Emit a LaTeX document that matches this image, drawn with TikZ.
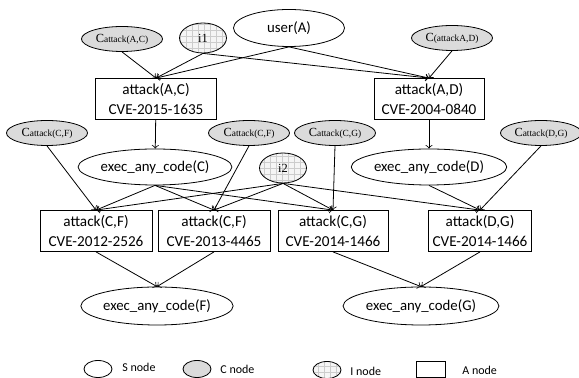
\documentclass[tikz,border=0pt]{standalone}
\usepackage{fontspec}
\setmainfont{Carlito}
\newfontfamily\tnr{Liberation Serif}
\usepackage{tikz}
\usetikzlibrary{shapes.geometric, patterns}

\newcommand{\cname}[2]{{\fontsize{6.2}{7}\selectfont #1}{\fontsize{4.7}{6}\selectfont #2}}

\begin{document}
\begin{tikzpicture}[x=0.5pt,y=-0.5pt,
  snode/.style={draw,ellipse,inner sep=0pt,font=\fontsize{7.4}{9}\selectfont},
  cnode/.style={draw,ellipse,fill=gray!28,inner sep=0pt,minimum width=40.5pt,minimum height=12.5pt,font=\tnr},
  inode/.style={draw,ellipse,inner sep=0pt,minimum width=23.5pt,minimum height=15pt,
    preaction={fill=gray!8},pattern=grid,pattern color=gray!40,font=\tnr\fontsize{6.2}{7}\selectfont},
  anode/.style={draw,rectangle,inner sep=0pt,align=center,minimum height=20.5pt,font=\fontsize{7.6}{10}\selectfont},
  legtext/.style={anchor=west,inner sep=0pt,font=\fontsize{6}{7}\selectfont}]
\useasboundingbox (0,0) rectangle (579,378);

% top row
\node[cnode] (cAC) at (122,39) {\cname{C}{attack(A,C)}};
\node[inode] (i1) at (203,38) {i1};
\node[snode,minimum width=55.5pt,minimum height=18.5pt] (userA) at (289,28) {user(A)};
\node[cnode] (cAD) at (452,38) {\cname{C}{(attackA,D)}};

\node[anode,minimum width=60.5pt] (aAC) at (156,99) {attack(A,C)\\CVE-2015-1635};
\node[anode,minimum width=55pt] (aAD) at (429,99) {attack(A,D)\\CVE-2004-0840};

% middle row
\node[cnode] (cCF1) at (47,133) {\cname{C}{attack(C,F)}};
\node[cnode] (cCF2) at (249,133) {\cname{C}{attack(C,F)}};
\node[cnode] (cCG) at (335,133) {\cname{C}{attack(C,G)}};
\node[cnode] (cDG) at (541,133) {\cname{C}{attack(D,G)}};

\node[snode,minimum width=75pt,minimum height=18pt] (eC) at (155,167) {exec\_any\_code(C)};
\node[snode,minimum width=75pt,minimum height=18pt] (eD) at (429,167) {exec\_any\_code(D)};
\node[inode] (i2) at (283,168) {i2};

\node[anode,minimum width=56pt] (aCF1) at (96,231) {attack(C,F)\\CVE-2012-2526};
\node[anode,minimum width=56pt] (aCF2) at (214,231) {attack(C,F)\\CVE-2013-4465};
\node[anode,minimum width=55pt] (aCG) at (333,231) {attack(C,G)\\CVE-2014-1466};
\node[anode,minimum width=51.5pt] (aDG) at (480,231) {attack(D,G)\\CVE-2014-1466};

% bottom row
\node[snode,minimum width=75pt,minimum height=19pt] (eF) at (157,306) {exec\_any\_code(F)};
\node[snode,minimum width=74pt,minimum height=19pt] (eG) at (421,306) {exec\_any\_code(G)};

% edges
\draw[->] (cAC.south) -- (aAC.north);
\draw[->] (i1.south) -- (aAC.north);
\draw[->] (i1.south) -- (aAD.north);
\draw[->] (userA.south) -- (aAC.north);
\draw[->] (userA.south) -- (aAD.north);
\draw[->] (cAD.south) -- (aAD.north);

\draw[->] (aAC) -- (eC);
\draw[->] (aAD) -- (eD);

\draw[->] (cCF1.south) -- (aCF1.north);
\draw[->] (cCF2.south) -- (aCF2.north);
\draw[->] (cCG.south) -- (aCG.north);
\draw[->] (cDG.south) -- (aDG.north);

\foreach \t in {aCF1,aCF2,aCG}
  \draw[->] (eC.south) -- (\t.north);
\foreach \t in {aCF1,aCF2,aCG,aDG}
  \draw[->] (i2.south) -- (\t.north);
\draw[->] (eD.south) -- (aDG.north);

\draw[->] (aCF1.south) -- (eF.north);
\draw[->] (aCF2.south) -- (eF.north);
\draw[->] (aCG.south) -- (eG.north);
\draw[->] (aDG.south) -- (eG.north);

% legend
\node[snode,minimum width=14pt,minimum height=8.5pt] (legS) at (98,369) {};
\node[legtext] (legSt) at (122,367) {S node};
\node[cnode,minimum width=14pt,minimum height=8.5pt] (legC) at (197,369) {};
\node[legtext] (legCt) at (220,369) {C node};
\node[inode,minimum width=14pt,minimum height=8.5pt] (legI) at (327,370) {};
\node[legtext] (legIt) at (350,371) {I node};
\node[draw,minimum width=14.5pt,minimum height=8pt,inner sep=0pt] (legA) at (431,369) {};
\node[legtext] (legAt) at (462,370) {A node};
\end{tikzpicture}
\end{document}
